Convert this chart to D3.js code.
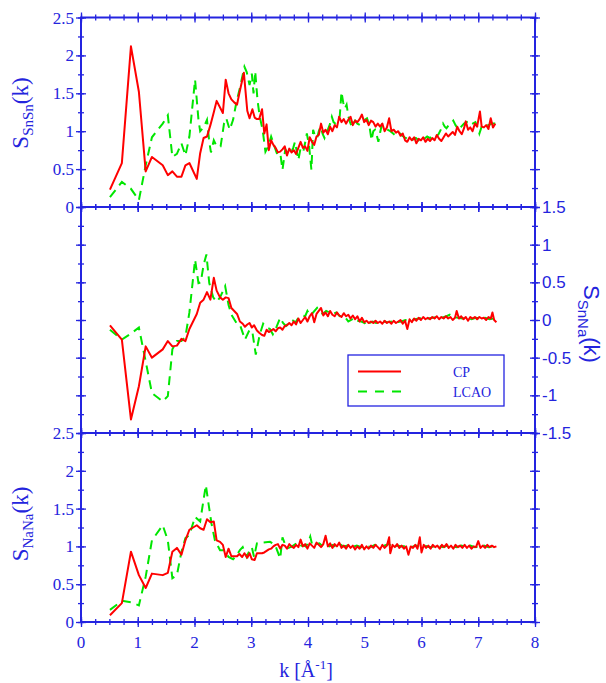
<!DOCTYPE html>
<html>
<head>
<meta charset="UTF-8">
<script src="https://cdn.jsdelivr.net/npm/d3@7"></script>
<style>
  body { margin: 0; background: #fff; }
  text { fill: #2424dd; }
  .serif { font-family: 'Liberation Serif', 'Times New Roman', serif; }
  .sans { font-family: 'Liberation Sans', Arial, sans-serif; }
</style>
</head>
<body>
<svg id="chart" width="606" height="683"></svg>
<script>
// tick labels
const kTicks = [0, 1, 2, 3, 4, 5, 6, 7, 8];
const sTicks = [0, 0.5, 1, 1.5, 2, 2.5];
const snnaTicks = [-1.5, -1, -0.5, 0, 0.5, 1, 1.5];
const seriesNames = ["CP", "LCAO"];

// S_SnSn(k), [k, S]
const snsnCP = [[0.51,0.23],[0.72,0.58],[0.88,2.12],[1.02,1.52],[1.14,0.47],[1.25,0.66],[1.44,0.55],[1.53,0.42],[1.61,0.47],[1.69,0.40],[1.77,0.40],[1.84,0.55],[1.91,0.58],[2.04,0.37],[2.10,0.71],[2.16,0.91],[2.22,0.93],[2.28,1.08],[2.34,1.25],[2.39,1.40],[2.50,1.24],[2.55,1.68],[2.60,1.50],[2.65,1.42],[2.70,1.38],[2.75,1.35],[2.79,1.50],[2.87,1.77],[2.93,1.27],[2.97,1.17],[3.02,1.29],[3.06,1.18],[3.10,1.16],[3.14,1.16],[3.19,1.29],[3.23,0.97],[3.27,1.09],[3.31,0.75],[3.35,0.88],[3.39,0.82],[3.43,0.78],[3.47,0.72],[3.51,0.73],[3.55,0.76],[3.59,0.80],[3.63,0.68],[3.67,0.77],[3.71,0.72],[3.75,0.75],[3.79,0.70],[3.83,0.78],[3.87,0.86],[3.91,0.78],[3.95,0.80],[3.99,0.74],[4.03,0.92],[4.07,0.86],[4.11,0.82],[4.15,0.93],[4.19,0.95],[4.23,1.10],[4.27,0.98],[4.31,1.02],[4.35,0.96],[4.39,1.06],[4.43,1.00],[4.47,1.08],[4.51,1.05],[4.55,1.19],[4.59,1.12],[4.63,1.16],[4.67,1.10],[4.71,1.15],[4.75,1.19],[4.79,1.08],[4.83,1.14],[4.87,1.12],[4.91,1.16],[4.95,1.22],[4.99,1.12],[5.03,1.15],[5.07,1.08],[5.11,1.14],[5.15,1.12],[5.19,1.06],[5.23,1.10],[5.27,1.06],[5.31,1.10],[5.35,1.00],[5.39,1.05],[5.43,1.17],[5.47,1.00],[5.51,1.02],[5.55,0.98],[5.59,1.00],[5.63,0.94],[5.67,0.97],[5.71,0.88],[5.75,0.86],[5.79,0.92],[5.83,0.88],[5.87,0.92],[5.91,0.84],[5.95,0.90],[5.99,0.88],[6.03,0.92],[6.07,0.86],[6.11,0.90],[6.15,0.87],[6.19,0.91],[6.23,0.88],[6.27,0.95],[6.31,0.90],[6.35,0.87],[6.39,0.92],[6.43,0.97],[6.47,0.93],[6.51,0.96],[6.55,0.99],[6.59,0.95],[6.63,1.06],[6.67,1.00],[6.71,0.96],[6.75,1.04],[6.78,1.13],[6.82,1.02],[6.86,1.05],[6.90,1.00],[6.94,1.10],[6.98,1.06],[7.03,1.26],[7.06,1.06],[7.10,1.05],[7.14,1.08],[7.18,1.03],[7.22,1.17],[7.26,1.05],[7.30,1.10]];
const snsnLCAO = [[0.51,0.13],[0.72,0.33],[0.88,0.24],[1.02,0.09],[1.14,0.55],[1.25,0.92],[1.44,1.10],[1.53,1.21],[1.61,0.66],[1.69,0.70],[1.77,0.84],[1.84,0.68],[1.91,0.93],[2.01,1.68],[2.07,1.15],[2.10,1.00],[2.16,1.05],[2.22,1.15],[2.26,0.86],[2.29,0.72],[2.34,0.88],[2.39,0.80],[2.46,0.80],[2.52,1.10],[2.56,1.17],[2.62,1.02],[2.68,1.15],[2.74,1.39],[2.80,1.57],[2.88,1.85],[2.92,1.78],[2.97,1.61],[3.01,1.76],[3.04,1.50],[3.07,1.79],[3.11,1.41],[3.15,1.19],[3.20,1.02],[3.25,0.73],[3.30,0.80],[3.35,0.93],[3.40,0.82],[3.45,0.71],[3.51,0.72],[3.55,0.49],[3.60,0.76],[3.65,0.70],[3.70,0.72],[3.74,0.78],[3.77,0.86],[3.80,0.74],[3.83,0.62],[3.87,0.78],[3.92,0.74],[3.95,0.85],[3.98,0.97],[4.02,0.80],[4.06,0.49],[4.09,1.02],[4.13,0.92],[4.16,0.91],[4.19,1.00],[4.22,1.06],[4.26,0.96],[4.29,0.91],[4.32,0.98],[4.35,1.02],[4.39,1.10],[4.42,1.19],[4.45,1.12],[4.48,1.10],[4.52,1.14],[4.56,1.20],[4.59,1.52],[4.62,1.38],[4.65,1.30],[4.68,1.35],[4.71,1.20],[4.74,1.12],[4.77,1.06],[4.80,1.10],[4.83,1.14],[4.87,1.10],[4.92,1.08],[4.96,1.12],[5.00,1.15],[5.04,1.17],[5.08,1.08],[5.12,0.88],[5.15,1.00],[5.18,1.02],[5.21,0.95],[5.24,0.86],[5.27,0.98],[5.30,1.08],[5.35,1.04],[5.40,1.02],[5.45,1.00],[5.50,0.97],[5.53,0.95],[5.58,0.98],[5.62,0.97],[5.66,0.94],[5.70,0.92],[5.75,0.90],[5.80,0.92],[5.85,0.89],[5.90,0.91],[5.95,0.88],[6.00,0.92],[6.05,0.90],[6.10,0.93],[6.15,0.91],[6.20,0.94],[6.25,0.92],[6.30,0.96],[6.34,1.02],[6.38,1.10],[6.41,1.06],[6.44,1.04],[6.48,1.08],[6.52,1.10],[6.56,1.14],[6.60,1.08],[6.65,1.02],[6.70,1.06],[6.75,1.10],[6.80,1.12],[6.85,1.08],[6.90,1.10],[6.95,1.12],[6.99,1.05],[7.02,0.97],[7.06,1.06],[7.12,1.10],[7.18,1.08],[7.24,1.10],[7.30,1.10]];

// S_SnNa(k)
const snnaCP = [[0.51,-0.07],[0.72,-0.26],[0.88,-1.32],[1.02,-0.88],[1.14,-0.35],[1.25,-0.50],[1.44,-0.39],[1.53,-0.28],[1.61,-0.35],[1.69,-0.34],[1.77,-0.25],[1.84,-0.28],[1.91,-0.12],[2.04,0.08],[2.10,0.23],[2.16,0.27],[2.22,0.37],[2.28,0.27],[2.34,0.56],[2.39,0.39],[2.45,0.30],[2.50,0.27],[2.55,0.30],[2.60,0.29],[2.65,0.16],[2.70,0.12],[2.75,0.08],[2.80,-0.02],[2.85,-0.05],[2.89,-0.09],[2.93,-0.06],[2.97,-0.04],[3.01,-0.10],[3.05,-0.07],[3.10,-0.14],[3.14,-0.17],[3.19,-0.20],[3.23,-0.21],[3.27,-0.13],[3.31,-0.16],[3.35,-0.14],[3.39,-0.12],[3.43,-0.15],[3.47,-0.11],[3.51,-0.10],[3.55,-0.13],[3.59,-0.08],[3.63,-0.07],[3.67,-0.04],[3.71,-0.07],[3.75,-0.02],[3.79,-0.06],[3.83,0.02],[3.87,-0.04],[3.91,0.00],[3.95,0.04],[3.99,-0.02],[4.03,0.05],[4.07,0.09],[4.11,-0.03],[4.15,0.08],[4.19,0.12],[4.23,0.16],[4.27,0.06],[4.31,0.10],[4.35,0.05],[4.39,0.12],[4.43,0.07],[4.47,0.05],[4.51,0.10],[4.55,0.06],[4.59,0.04],[4.63,0.09],[4.67,0.05],[4.71,0.07],[4.75,0.02],[4.79,0.06],[4.83,0.01],[4.87,0.05],[4.91,-0.02],[4.95,0.03],[4.99,-0.03],[5.03,-0.01],[5.07,-0.04],[5.11,-0.02],[5.15,-0.04],[5.19,-0.01],[5.23,-0.04],[5.27,-0.02],[5.31,-0.05],[5.35,-0.01],[5.39,-0.04],[5.43,-0.02],[5.47,-0.05],[5.51,-0.01],[5.55,-0.04],[5.59,-0.02],[5.63,0.00],[5.67,-0.05],[5.71,-0.01],[5.75,-0.12],[5.79,0.01],[5.83,-0.03],[5.87,0.02],[5.91,-0.01],[5.95,0.03],[5.99,0.00],[6.03,0.04],[6.07,0.01],[6.11,0.03],[6.15,0.01],[6.19,0.04],[6.23,0.02],[6.27,0.05],[6.31,0.01],[6.35,0.04],[6.39,0.02],[6.43,0.05],[6.47,0.02],[6.51,0.04],[6.55,0.00],[6.59,0.03],[6.62,0.12],[6.66,0.02],[6.70,0.05],[6.74,0.01],[6.78,0.04],[6.82,-0.01],[6.86,0.04],[6.90,0.02],[6.94,0.04],[6.98,0.01],[7.02,0.04],[7.06,0.02],[7.10,0.03],[7.14,0.00],[7.18,0.04],[7.22,0.02],[7.25,0.10],[7.28,0.00],[7.32,-0.03]];
const snnaLCAO = [[0.51,-0.13],[0.72,-0.26],[0.88,-0.18],[1.02,-0.10],[1.14,-0.55],[1.25,-0.97],[1.44,-1.08],[1.53,-1.01],[1.61,-0.39],[1.69,-0.28],[1.77,-0.28],[1.84,-0.22],[1.91,0.10],[2.01,0.80],[2.07,0.49],[2.11,0.50],[2.16,0.73],[2.21,0.87],[2.26,0.49],[2.33,0.30],[2.39,0.24],[2.45,0.30],[2.54,0.45],[2.60,0.20],[2.65,0.07],[2.74,-0.04],[2.80,-0.06],[2.89,-0.26],[2.97,-0.13],[3.02,-0.16],[3.08,-0.46],[3.15,-0.19],[3.21,-0.05],[3.27,-0.10],[3.33,-0.12],[3.38,-0.19],[3.44,-0.10],[3.51,0.03],[3.56,-0.04],[3.61,-0.08],[3.66,-0.04],[3.72,0.00],[3.78,-0.03],[3.84,0.04],[3.90,0.06],[3.95,0.05],[3.99,0.12],[4.04,0.06],[4.09,0.10],[4.16,0.16],[4.21,0.10],[4.26,0.08],[4.32,0.12],[4.38,0.10],[4.44,0.08],[4.50,0.10],[4.56,0.05],[4.62,0.06],[4.67,0.02],[4.71,-0.02],[4.76,0.00],[4.82,0.03],[4.88,-0.01],[4.94,-0.02],[5.00,-0.04],[5.04,-0.08],[5.08,-0.04],[5.14,-0.02],[5.20,-0.04],[5.26,-0.03],[5.32,-0.02],[5.40,-0.03],[5.48,-0.02],[5.56,-0.03],[5.64,-0.02],[5.72,0.00],[5.80,-0.01],[5.88,0.01],[5.96,0.02],[6.04,0.03],[6.12,0.02],[6.20,0.03],[6.28,0.04],[6.36,0.03],[6.44,0.05],[6.50,0.07],[6.56,0.04],[6.64,0.03],[6.72,0.02],[6.80,0.03],[6.88,0.01],[6.96,0.03],[7.04,0.02],[7.12,0.03],[7.20,0.01],[7.28,0.02],[7.32,0.00]];

// S_NaNa(k)
const nanaCP = [[0.51,0.09],[0.72,0.25],[0.88,0.93],[1.02,0.62],[1.14,0.45],[1.25,0.64],[1.44,0.62],[1.53,0.65],[1.61,0.93],[1.69,0.98],[1.77,0.89],[1.84,1.08],[1.91,1.22],[2.04,1.28],[2.10,1.24],[2.16,1.22],[2.22,1.36],[2.28,1.32],[2.34,1.33],[2.39,1.08],[2.45,1.06],[2.50,1.02],[2.55,0.86],[2.60,0.97],[2.65,0.87],[2.70,0.87],[2.75,0.87],[2.79,0.90],[2.84,0.86],[2.88,0.91],[2.93,0.85],[2.97,0.91],[3.01,0.83],[3.06,0.82],[3.10,0.91],[3.14,0.91],[3.19,0.91],[3.23,0.92],[3.27,0.94],[3.31,0.96],[3.35,0.97],[3.39,1.00],[3.43,1.02],[3.47,1.03],[3.51,0.97],[3.55,1.02],[3.59,1.01],[3.63,0.97],[3.67,1.03],[3.71,1.00],[3.75,0.98],[3.79,1.02],[3.83,0.99],[3.87,1.09],[3.91,1.00],[3.95,1.03],[3.99,0.97],[4.03,1.04],[4.07,1.01],[4.11,0.98],[4.15,1.05],[4.19,1.02],[4.23,0.99],[4.27,1.03],[4.31,1.14],[4.35,1.00],[4.39,1.04],[4.43,0.98],[4.47,1.03],[4.51,1.00],[4.55,1.05],[4.59,0.98],[4.63,1.01],[4.67,0.97],[4.71,1.02],[4.75,0.98],[4.79,1.01],[4.83,0.96],[4.87,1.00],[4.91,0.97],[4.95,1.02],[4.99,0.96],[5.03,1.00],[5.07,0.97],[5.11,1.01],[5.15,0.98],[5.19,1.02],[5.23,0.99],[5.27,0.96],[5.31,1.02],[5.35,0.98],[5.39,1.01],[5.43,1.12],[5.45,0.91],[5.49,1.02],[5.53,0.99],[5.57,1.03],[5.61,0.98],[5.65,1.01],[5.69,0.97],[5.73,1.00],[5.77,0.89],[5.81,1.00],[5.85,0.98],[5.89,1.02],[5.93,0.97],[5.97,1.12],[6.00,0.92],[6.04,1.02],[6.08,0.98],[6.12,1.01],[6.16,0.97],[6.20,1.02],[6.24,0.99],[6.28,1.01],[6.32,0.97],[6.36,1.02],[6.40,0.99],[6.44,1.03],[6.48,0.98],[6.52,1.01],[6.56,0.97],[6.60,1.02],[6.64,0.99],[6.68,1.01],[6.72,0.98],[6.76,1.02],[6.80,0.98],[6.84,1.01],[6.88,0.97],[6.92,1.00],[6.96,0.99],[7.00,1.07],[7.04,0.98],[7.08,1.01],[7.12,0.98],[7.16,1.02],[7.20,0.99],[7.24,1.01],[7.28,0.99],[7.32,1.00]];
const nanaLCAO = [[0.51,0.16],[0.72,0.28],[0.88,0.26],[1.02,0.22],[1.14,0.60],[1.25,1.08],[1.44,1.28],[1.53,1.08],[1.61,0.58],[1.69,0.62],[1.77,0.93],[1.84,1.11],[1.91,1.15],[2.01,1.39],[2.10,1.33],[2.20,1.81],[2.25,1.55],[2.30,1.30],[2.36,1.08],[2.45,0.95],[2.52,0.95],[2.60,0.86],[2.68,0.83],[2.74,0.88],[2.80,0.95],[2.85,0.99],[2.92,0.86],[2.97,0.95],[3.01,0.99],[3.05,0.86],[3.10,1.04],[3.20,1.05],[3.33,1.06],[3.42,1.02],[3.51,0.84],[3.55,1.12],[3.60,1.02],[3.66,0.98],[3.72,1.00],[3.78,1.03],[3.84,0.99],[3.90,1.02],[3.96,1.00],[4.00,1.04],[4.04,1.13],[4.08,1.00],[4.14,1.03],[4.20,1.04],[4.26,1.00],[4.32,1.03],[4.38,1.00],[4.44,1.02],[4.50,0.99],[4.56,1.03],[4.62,1.00],[4.70,1.01],[4.78,0.99],[4.86,1.01],[4.94,0.99],[5.02,1.01],[5.10,0.99],[5.18,1.02],[5.26,1.00],[5.34,1.01],[5.42,1.03],[5.50,0.99],[5.58,1.01],[5.66,1.00],[5.74,1.01],[5.82,0.99],[5.90,1.01],[5.98,1.00],[6.06,1.01],[6.14,0.99],[6.22,1.00],[6.30,1.01],[6.38,0.99],[6.46,1.01],[6.54,1.00],[6.62,0.99],[6.70,1.01],[6.78,1.00],[6.86,1.01],[6.94,0.99],[7.02,1.00],[7.10,1.01],[7.18,0.99],[7.26,1.00],[7.32,1.00]];

const axisColor = "#2424e0";
const cpColor = "#ff0000";
const lcaoColor = "#00e600";

const svg = d3.select("#chart");
const x = d3.scaleLinear().domain([0, 8]).range([81, 535]);
const yTop = d3.scaleLinear().domain([0, 2.5]).range([207, 17.5]);
const yMid = d3.scaleLinear().domain([-1.5, 1.5]).range([433, 207]);
const yBot = d3.scaleLinear().domain([0, 2.5]).range([622, 433]);

// ticks that cross the frame line, like the original plot
function crossTicks(g, orient, scale, step, len) {
    const [d0, d1] = d3.extent(scale.domain());
    const vals = d3.range(Math.round((d1 - d0) / step) + 1).map(i => d0 + i * step);
    const mk = {bottom: d3.axisBottom, top: d3.axisTop, left: d3.axisLeft, right: d3.axisRight}[orient];
    g.attr("color", axisColor)
        .call(mk(scale).tickValues(vals).tickSize(len).tickFormat(""));
    g.select(".domain").remove();
    const horiz = orient === "bottom" || orient === "top";
    g.selectAll(".tick line")
        .attr("stroke-width", 1.3)
        .attr(horiz ? "y1" : "x1", function () { return -d3.select(this).attr(horiz ? "y2" : "x2"); });
}

const panels = [
    {y: yTop, cp: snsnCP, lcao: snsnLCAO},
    {y: yMid, cp: snnaCP, lcao: snnaLCAO},
    {y: yBot, cp: nanaCP, lcao: nanaLCAO}
];

panels.forEach(p => {
    const [yb, yt] = p.y.range();
    // frame
    svg.append("rect")
        .attr("x", x(0)).attr("y", yt)
        .attr("width", x(8) - x(0)).attr("height", yb - yt)
        .attr("fill", "none").attr("stroke", axisColor).attr("stroke-width", 2);
    [["bottom", yb], ["top", yt]].forEach(([o, pos]) => {
        const g = svg.append("g").attr("transform", `translate(0,${pos})`);
        crossTicks(g, o, x, 0.25, 3);
        const g2 = svg.append("g").attr("transform", `translate(0,${pos})`);
        crossTicks(g2, o, x, 1, 5);
    });
    [["left", x(0)], ["right", x(8)]].forEach(([o, pos]) => {
        const g = svg.append("g").attr("transform", `translate(${pos},0)`);
        crossTicks(g, o, p.y, 0.25, 3);
        const g2 = svg.append("g").attr("transform", `translate(${pos},0)`);
        crossTicks(g2, o, p.y, 0.5, 5);
    });

    const line = d3.line().x(d => x(d[0])).y(d => p.y(d[1]));
    svg.append("path").datum(p.lcao)
        .attr("d", line).attr("fill", "none")
        .attr("stroke", lcaoColor).attr("stroke-width", 2)
        .attr("stroke-dasharray", "9,6");
    svg.append("path").datum(p.cp)
        .attr("d", line).attr("fill", "none")
        .attr("stroke", cpColor).attr("stroke-width", 2)
        .attr("stroke-linejoin", "round");
});

// left tick labels (serif)
[yTop, yBot].forEach(ys => {
    svg.append("g").selectAll("text").data(sTicks).join("text")
        .attr("class", "serif")
        .attr("x", 74).attr("y", d => ys(d) + 6)
        .attr("text-anchor", "end").attr("font-size", 17)
        .text(d => d);
});

// right tick labels of the middle panel (sans)
svg.append("g").selectAll("text").data(snnaTicks).join("text")
    .attr("class", "sans")
    .attr("x", 542).attr("y", d => yMid(d) + 6)
    .attr("font-size", 17)
    .text(d => d);

// x tick labels
svg.append("g").selectAll("text").data(kTicks).join("text")
    .attr("class", "serif")
    .attr("x", d => x(d)).attr("y", 648)
    .attr("text-anchor", "middle").attr("font-size", 17)
    .text(d => d);

// x title
const xt = svg.append("text").attr("class", "serif")
    .attr("x", 306).attr("y", 677).attr("text-anchor", "middle").attr("font-size", 20);
xt.append("tspan").text("k [Å");
xt.append("tspan").attr("font-size", 13).attr("dy", -8).text("-1");
xt.append("tspan").attr("dy", 8).text("]");

// y titles
function yTitle(cls, tx, ty, rot, sub, big, small, subDy) {
    const t = svg.append("text").attr("class", cls)
        .attr("transform", `translate(${tx},${ty}) rotate(${rot})`)
        .attr("text-anchor", "middle").attr("font-size", big);
    t.append("tspan").text("S");
    t.append("tspan").attr("font-size", small).attr("dy", subDy).text(sub);
    t.append("tspan").attr("dy", -subDy).text("(k)");
}
yTitle("serif", 28, 113, -90, "SnSn", 23, 15, 5);
yTitle("serif", 28, 524, -90, "NaNa", 23, 15, 5);
yTitle("sans", 584, 324, 90, "SnNa", 22, 15, 6);

// legend
const lg = svg.append("g").attr("transform", "translate(348,355)");
lg.append("rect").attr("width", 156).attr("height", 51)
    .attr("fill", "#fff").attr("stroke", axisColor).attr("stroke-width", 1.3);
seriesNames.forEach((name, i) => {
    const yy = 16.5 + i * 20;
    lg.append("line").attr("x1", 10).attr("x2", 53).attr("y1", yy).attr("y2", yy)
        .attr("stroke", i === 0 ? cpColor : lcaoColor).attr("stroke-width", 2)
        .attr("stroke-dasharray", i === 0 ? null : "9,8");
    lg.append("text").attr("class", "serif")
        .attr("x", 105).attr("y", yy + 5).attr("font-size", 14)
        .text(name);
});
</script>
</body>
</html>
